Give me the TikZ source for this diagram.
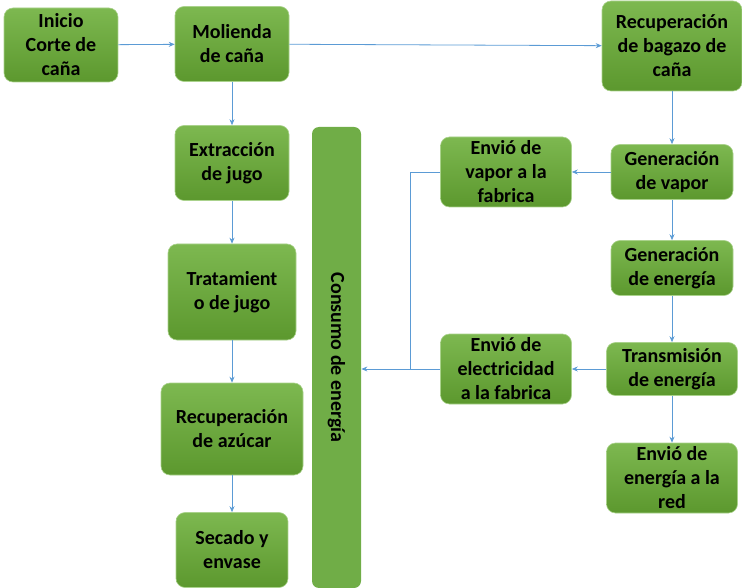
\documentclass[tikz,border=0pt]{standalone}
\usepackage{fontspec}
\setmainfont{Carlito}
\usetikzlibrary{arrows.meta}

\definecolor{boxtop}{RGB}{125,184,80}
\definecolor{boxbottom}{RGB}{92,152,46}
\definecolor{boxline}{RGB}{170,210,140}
\definecolor{barfill}{RGB}{112,173,71}
\definecolor{flowblue}{RGB}{91,155,213}

\begin{document}
\begin{tikzpicture}[x=1pt,y=-1pt,->,>={Stealth[length=6pt,width=5pt]},line width=0.8pt,draw=flowblue]
    \tikzstyle{step box}=[rectangle,rounded corners=9pt,top color=boxtop,bottom color=boxbottom,draw=boxline,line width=0.6pt,font=\fontsize{20}{24}\selectfont\bfseries,align=center,inner sep=0pt,text=black]
    \tikzstyle{bar box}=[rectangle,rounded corners=7pt,fill=barfill,draw=none,inner sep=0pt]

    \useasboundingbox (0,0) rectangle (742,588);

    % Draw the sugar line (left column)
    \node[step box,minimum width=114pt,minimum height=74pt] (S-1) at (61,45) {Inicio\\Corte de\\caña};
    \node[step box,minimum width=114pt,minimum height=75pt] (S-2) at (232,44) {Molienda\\de caña};
    \node[step box,minimum width=114pt,minimum height=75pt] (S-3) at (232,163) {Extracción\\de jugo};
    \node[step box,minimum width=128pt,minimum height=96pt] (S-4) at (232,292) {Tratamient\\o de jugo};
    \node[step box,minimum width=142pt,minimum height=92pt] (S-5) at (232,429) {Recuperación\\de azúcar};
    \node[step box,minimum width=112pt,minimum height=75pt] (S-6) at (232,550) {Secado y\\envase};

    % Draw the consumption bar
    \node[bar box,minimum width=49pt,minimum height=461pt] (C) at (336.5,357.5) {};
    \node[rotate=-90,font=\fontsize{20}{24}\selectfont\bfseries] (C-text) at (C.center) {Consumo de energía};

    % Draw the energy line (right column)
    \node[step box,minimum width=140pt,minimum height=90pt] (E-1) at (672,46) {Recuperación\\de bagazo de\\caña};
    \node[step box,minimum width=122pt,minimum height=55pt] (E-2) at (672,172) {Generación\\de vapor};
    \node[step box,minimum width=122pt,minimum height=55pt] (E-3) at (672,268) {Generación\\de energía};
    \node[step box,minimum width=131pt,minimum height=53pt] (E-4) at (672,369) {Transmisión\\de energía};
    \node[step box,minimum width=131pt,minimum height=70pt] (E-5) at (672,478) {Envió de\\energía a la\\red};

    % Draw the delivery boxes
    \node[step box,minimum width=131pt,minimum height=70pt] (D-1) at (506,172) {Envió de\\vapor a la\\fabrica};
    \node[step box,minimum width=131pt,minimum height=70pt] (D-2) at (506,369) {Envió de\\electricidad\\a la fabrica};
    \coordinate (J) at (410,369);

    % Connect the sugar line
    \path (S-1) edge (S-2);
    \path (S-2) edge (E-1);
    \path (S-2) edge (S-3);
    \path (S-3) edge (S-4);
    \path (S-4) edge (S-5);
    \path (S-5) edge (S-6);

    % Connect the energy line
    \path (E-1) edge (E-2);
    \path (E-2) edge (E-3);
    \path (E-3) edge (E-4);
    \path (E-4) edge (E-5);
    \path (E-2) edge (D-1);
    \path (E-4) edge (D-2);

    % Bring both deliveries to the consumption bar
    \draw[-] (D-1.west) -| (J);
    \draw (D-2.west) -- (D-2.west -| C.east);
\end{tikzpicture}
\end{document}
